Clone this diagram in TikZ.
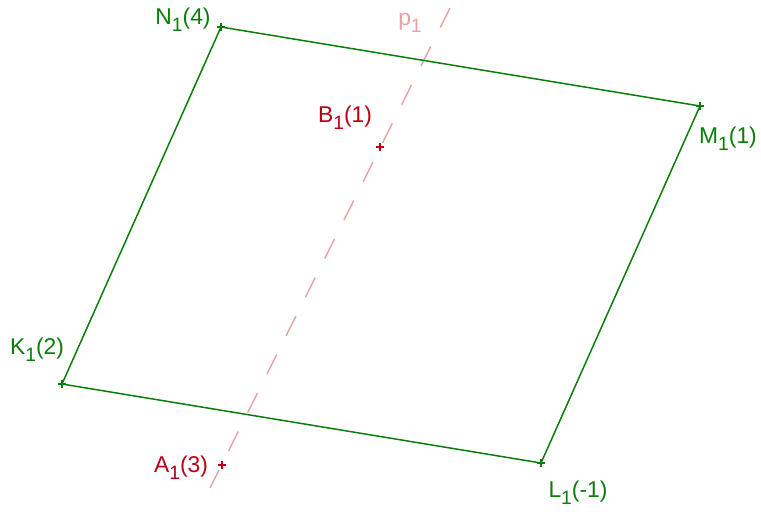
\documentclass[tikz,border=0pt]{standalone}
\usepackage{fontspec}
\setmainfont{Liberation Sans}
\usetikzlibrary{positioning}
\definecolor{edgegreen}{RGB}{10,125,10}
\definecolor{pointred}{RGB}{185,0,20}
\definecolor{axispink}{RGB}{232,160,165}
\newcommand{\lowidx}[1]{\raisebox{-0.55ex}{\fontsize{11}{11}\selectfont #1}}

\begin{document}
\begin{tikzpicture}[x=0.02cm, y=-0.02cm]
    % Define styles
    \tikzset{
        edge/.style={draw=edgegreen, line width=0.85pt},
        axis/.style={draw=axispink, line width=0.85pt, dash pattern=on 12.5pt off 12pt},
        lbl/.style={inner sep=0pt, font=\fontsize{13}{15}\selectfont},
        tick/.style={line width=0.6pt}
    }
    \useasboundingbox (0,0) rectangle (761,511);

    % Vertices and points
    \coordinate (n1) at (221,27);
    \coordinate (m1) at (700,106);
    \coordinate (l1) at (541,463);
    \coordinate (k1) at (62,384);
    \coordinate (b1) at (380,147);
    \coordinate (a1) at (222,465);
    \coordinate (ptop) at (450,8);
    \coordinate (pbot) at (210,488);

    % Axis p1
    \draw[axis] (ptop) -- (pbot);

    % Parallelogram
    \draw[edge] (k1) -- (l1) -- (m1) -- (n1) -- cycle;

    % Tick marks
    \foreach \p in {n1,m1,l1,k1}
        \draw[tick, edgegreen] ([xshift=-2.5pt]\p) -- ([xshift=2.5pt]\p)
            ([yshift=-2.5pt]\p) -- ([yshift=2.5pt]\p);
    \foreach \p in {a1,b1}
        \draw[tick, pointred] ([xshift=-2.5pt]\p) -- ([xshift=2.5pt]\p)
            ([yshift=-2.5pt]\p) -- ([yshift=2.5pt]\p);

    % Labels
    \node[lbl, text=edgegreen] (ln1) at (183,20) {N\lowidx{1}(4)};
    \node[lbl, text=edgegreen] (lm1) at (728,139) {M\lowidx{1}(1)};
    \node[lbl, text=edgegreen] (ll1) at (578,493) {L\lowidx{1}(-1)};
    \node[lbl, text=edgegreen] (lk1) at (37,350) {K\lowidx{1}(2)};
    \node[lbl, text=pointred] (lb1) at (345,118) {B\lowidx{1}(1)};
    \node[lbl, text=pointred] (la1) at (181,468) {A\lowidx{1}(3)};
    \node[lbl, text=axispink] (lp1) at (410,23) {p\lowidx{1}};
\end{tikzpicture}
\end{document}
